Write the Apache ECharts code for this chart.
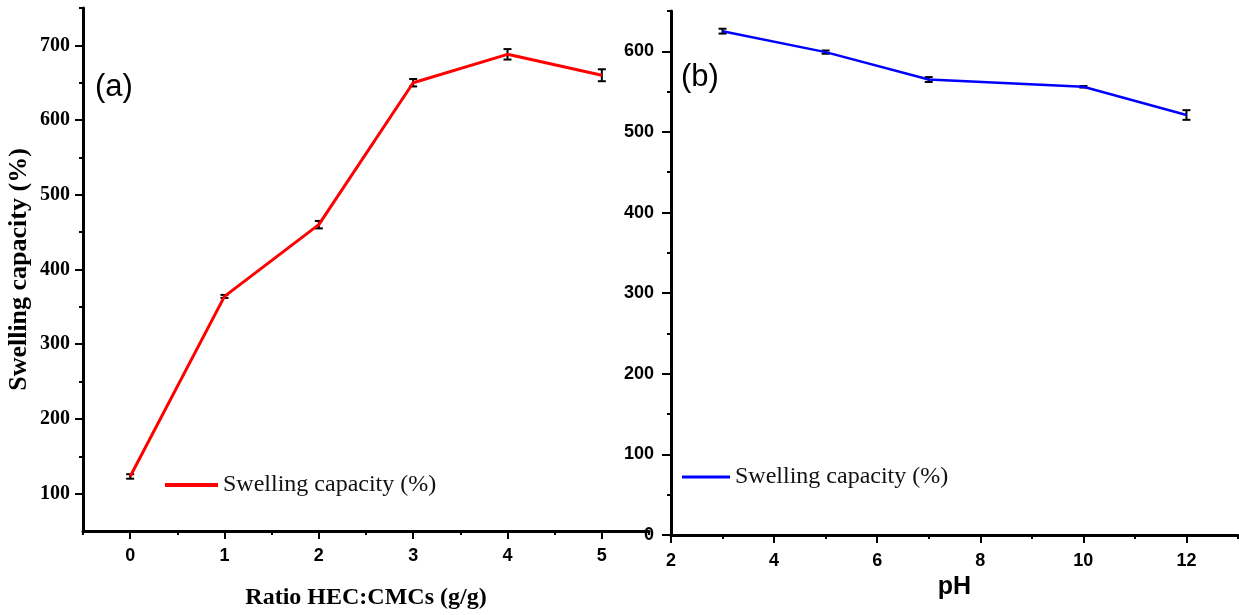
<!DOCTYPE html>
<html>
<head>
<meta charset="utf-8">
<script src="https://cdn.jsdelivr.net/npm/echarts@6/dist/echarts.min.js"></script>
<style>
  html, body { margin: 0; padding: 0; background: #fff; }
  #chart { width: 1239px; height: 615px; }
</style>
</head>
<body>
<div id="chart"></div>
<script>
// Panel (a): swelling capacity against HEC:CMCs ratio
const ratioValues = [0, 1, 2, 3, 4, 5];
const ratioSwelling = [123, 364, 460, 650, 688, 660];
const ratioError = [3, 2, 5, 5, 7, 8];

// Panel (b): swelling capacity against pH
const phValues = [3, 5, 7, 10, 12];
const phSwelling = [625, 599, 565, 556, 521];
const phError = [3, 2, 3, 1, 6];

// Tick positions
const ratioTicks = [0, 1, 2, 3, 4, 5];
const ratioMinorTicks = [-0.5, 0.5, 1.5, 2.5, 3.5, 4.5, 5.5];
const swellTicksA = [100, 200, 300, 400, 500, 600, 700];
const swellMinorA = [150, 250, 350, 450, 550, 650, 750];
const phTicks = [2, 4, 6, 8, 10, 12];
const phMinorTicks = [3, 5, 7, 9, 11, 13];
const swellTicksB = [0, 100, 200, 300, 400, 500, 600];
const swellMinorB = [50, 150, 250, 350, 450, 550, 650];

const legendText = 'Swelling capacity (%)';

const chart = echarts.init(document.getElementById('chart'), null, { renderer: 'canvas' });

const tickFont = { fontFamily: 'Liberation Sans', fontWeight: 'bold', fontSize: 18, color: '#000' };
const serifTickFont = { fontFamily: 'Liberation Serif', fontWeight: 'bold', fontSize: 20, color: '#000' };
const axisLine = { show: true, onZero: false, lineStyle: { color: '#000', width: 3 } };

function majorAxis(extra) {
  return Object.assign({
    type: 'value',
    splitLine: { show: false },
    axisLine: axisLine
  }, extra);
}

function minorAxis(extra, ticks) {
  return Object.assign({
    type: 'value',
    splitLine: { show: false },
    axisLine: { show: false, onZero: false },
    axisLabel: { show: false },
    axisTick: { show: true, length: 4, customValues: ticks, lineStyle: { color: '#000', width: 2 } }
  }, extra);
}

// Vertical error bar with caps, drawn at each data point
function errorBars(params, api) {
  const x = api.value(0), y = api.value(1), e = api.value(2);
  const hi = api.coord([x, y + e]);
  const lo = api.coord([x, y - e]);
  const w = 4;
  const style = { stroke: '#000', lineWidth: 2 };
  return {
    type: 'group',
    children: [
      { type: 'line', shape: { x1: hi[0], y1: hi[1], x2: lo[0], y2: lo[1] }, style: style },
      { type: 'line', shape: { x1: hi[0] - w, y1: hi[1], x2: hi[0] + w, y2: hi[1] }, style: style },
      { type: 'line', shape: { x1: lo[0] - w, y1: lo[1], x2: lo[0] + w, y2: lo[1] }, style: style }
    ]
  };
}

const option = {
  animation: false,
  backgroundColor: '#fff',
  title: [
    { text: '(a)', left: 95, top: 72, padding: 0,
      textStyle: { fontFamily: 'Liberation Sans', fontWeight: 'normal', fontSize: 31, color: '#000' } },
    { text: '(b)', left: 681, top: 62, padding: 0,
      textStyle: { fontFamily: 'Liberation Sans', fontWeight: 'normal', fontSize: 31, color: '#000' } }
  ],
  legend: [
    { data: [{ name: 'swellingVsRatio', icon: 'rect' }], left: 165, top: 473, padding: 0,
      itemWidth: 53, itemHeight: 4, itemGap: 0,
      formatter: () => legendText,
      textStyle: { fontFamily: 'Liberation Serif', fontSize: 24, color: '#111' } },
    { data: [{ name: 'swellingVsPH', icon: 'rect' }], left: 682, top: 465, padding: 0,
      itemWidth: 48, itemHeight: 3, itemGap: 0,
      formatter: () => legendText,
      textStyle: { fontFamily: 'Liberation Serif', fontSize: 24, color: '#111' } }
  ],
  grid: [
    { left: 83, top: 8, right: 590, bottom: 83 },
    { left: 671, top: 11, right: 1, bottom: 80 }
  ],
  xAxis: [
    majorAxis({
      gridIndex: 0, min: -0.5, max: 5.5, interval: 0.5,
      name: 'Ratio HEC:CMCs (g/g)', nameLocation: 'middle', nameGap: 55,
      nameTextStyle: { fontFamily: 'Liberation Serif', fontWeight: 'bold', fontSize: 24, color: '#000' },
      axisTick: { show: true, length: 8, customValues: ratioTicks, lineStyle: { color: '#000', width: 2 } },
      axisLabel: Object.assign({ customValues: ratioTicks, margin: 16 }, tickFont)
    }),
    minorAxis({ gridIndex: 0, min: -0.5, max: 5.5, interval: 0.5, position: 'bottom' }, ratioMinorTicks),
    majorAxis({
      gridIndex: 1, min: 2, max: 13, interval: 1,
      name: 'pH', nameLocation: 'middle', nameGap: 40,
      nameTextStyle: { fontFamily: 'Liberation Sans', fontWeight: 'bold', fontSize: 25, color: '#000' },
      axisTick: { show: true, length: 8, customValues: phTicks, lineStyle: { color: '#000', width: 2 } },
      axisLabel: Object.assign({ customValues: phTicks, margin: 17 }, tickFont)
    }),
    minorAxis({ gridIndex: 1, min: 2, max: 13, interval: 1, position: 'bottom' }, phMinorTicks)
  ],
  yAxis: [
    majorAxis({
      gridIndex: 0, min: 50, max: 750, interval: 50, position: 'left',
      name: 'Swelling capacity (%)', nameLocation: 'middle', nameGap: 51,
      nameTextStyle: { fontFamily: 'Liberation Serif', fontWeight: 'bold', fontSize: 26, color: '#000' },
      axisTick: { show: true, length: 8, customValues: swellTicksA, lineStyle: { color: '#000', width: 2 } },
      axisLabel: Object.assign({ customValues: swellTicksA, margin: 13 }, serifTickFont)
    }),
    minorAxis({ gridIndex: 0, min: 50, max: 750, interval: 50, position: 'left' }, swellMinorA),
    majorAxis({
      gridIndex: 1, min: 0, max: 650, interval: 50, position: 'left',
      axisTick: { show: true, length: 9, customValues: swellTicksB, lineStyle: { color: '#000', width: 2 } },
      axisLabel: Object.assign({ customValues: swellTicksB, margin: 17 }, tickFont)
    }),
    minorAxis({ gridIndex: 1, min: 0, max: 650, interval: 50, position: 'left' }, swellMinorB)
  ],
  series: [
    {
      name: 'swellingVsRatio', type: 'line', xAxisIndex: 0, yAxisIndex: 0,
      data: ratioValues.map((x, i) => [x, ratioSwelling[i]]),
      symbol: 'none', lineStyle: { color: '#ff0000', width: 3 }, itemStyle: { color: '#ff0000' }
    },
    {
      name: 'ratioError', type: 'custom', xAxisIndex: 0, yAxisIndex: 0, clip: false, z: 3,
      data: ratioValues.map((x, i) => [x, ratioSwelling[i], ratioError[i]]),
      renderItem: errorBars
    },
    {
      name: 'swellingVsPH', type: 'line', xAxisIndex: 2, yAxisIndex: 2,
      data: phValues.map((x, i) => [x, phSwelling[i]]),
      symbol: 'none', lineStyle: { color: '#0000ff', width: 2.5 }, itemStyle: { color: '#0000ff' }
    },
    {
      name: 'phError', type: 'custom', xAxisIndex: 2, yAxisIndex: 2, clip: false, z: 3,
      data: phValues.map((x, i) => [x, phSwelling[i], phError[i]]),
      renderItem: errorBars
    }
  ]
};

chart.setOption(option);
</script>
</body>
</html>
